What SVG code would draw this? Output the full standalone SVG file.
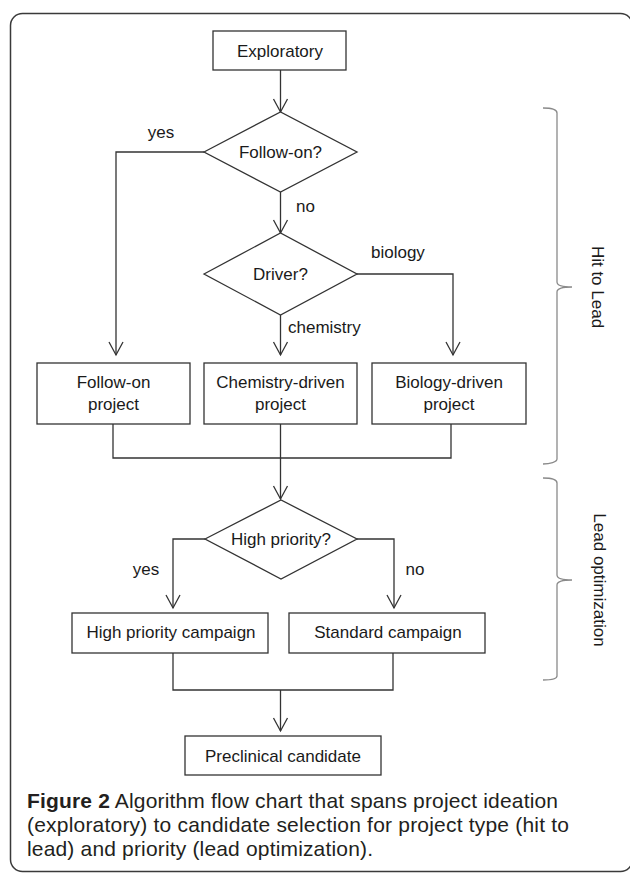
<svg xmlns="http://www.w3.org/2000/svg" width="630" height="874" viewBox="0 0 630 874">
  <defs>
    <style>
      .frame { fill: none; stroke: #3a3a3a; stroke-width: 1.5; }
      .box { fill: #ffffff; stroke: #333333; stroke-width: 1.3; }
      .edge { fill: none; stroke: #333333; stroke-width: 1.3; }
      .brace { fill: none; stroke: #8a8a8a; stroke-width: 1.3; }
      .t { font-family: "Liberation Sans", Arial, sans-serif; font-size: 17px; fill: #1a1a1a; }
      .c { text-anchor: middle; }
      .cap { font-family: "Liberation Sans", Arial, sans-serif; font-size: 21px; fill: #231f20; }
      .b { font-weight: bold; }
    </style>
    <marker id="arr" markerUnits="userSpaceOnUse" markerWidth="20" markerHeight="20" viewBox="-16 -10 20 20" refX="0" refY="0" orient="auto">
      <path d="M-13,-7 L0,0 L-13,7" fill="none" stroke="#333333" stroke-width="1.3"/>
    </marker>
  </defs>

  <rect class="frame" x="10.5" y="13.5" width="622" height="858" rx="12"/>

  <g id="connectors">
    <path class="edge" d="M280.5,70 L280.5,112" marker-end="url(#arr)"/>
    <path class="edge" d="M204,152 L116,152 L116,355" marker-end="url(#arr)"/>
    <path class="edge" d="M280.5,192 L280.5,233" marker-end="url(#arr)"/>
    <path class="edge" d="M357,274 L453,274 L453,355" marker-end="url(#arr)"/>
    <path class="edge" d="M280.5,315 L280.5,355" marker-end="url(#arr)"/>
    <path class="edge" d="M113,424 L113,458 L451,458 L451,424"/>
    <path class="edge" d="M280.5,424 L280.5,499" marker-end="url(#arr)"/>
    <path class="edge" d="M205,539 L173,539 L173,608" marker-end="url(#arr)"/>
    <path class="edge" d="M357,539 L394,539 L394,608" marker-end="url(#arr)"/>
    <path class="edge" d="M173,653 L173,690 L393,690 L393,653"/>
    <path class="edge" d="M280.5,690 L280.5,731" marker-end="url(#arr)"/>
    <text class="t c" x="161" y="138">yes</text>
    <text class="t" x="296" y="212">no</text>
    <text class="t" x="371" y="258">biology</text>
    <text class="t" x="288" y="333">chemistry</text>
    <text class="t c" x="146" y="575">yes</text>
    <text class="t c" x="415" y="575">no</text>
  </g>

  <g id="n_exploratory">
    <rect class="box" x="213" y="31" width="133" height="39"/>
    <text class="t c" x="280" y="57">Exploratory</text>
  </g>
  <g id="n_followon_q">
    <polygon class="box" points="204,152 280.5,112 357,152 280.5,192"/>
    <text class="t c" x="280.5" y="158">Follow-on?</text>
  </g>
  <g id="n_driver_q">
    <polygon class="box" points="204,274 280.5,233 357,274 280.5,315"/>
    <text class="t c" x="280.5" y="280">Driver?</text>
  </g>
  <g id="n_followon_proj">
    <rect class="box" x="37" y="363" width="153" height="61"/>
    <text class="t c" x="113.5" y="388">Follow-on</text>
    <text class="t c" x="113.5" y="410">project</text>
  </g>
  <g id="n_chem_proj">
    <rect class="box" x="204" y="363" width="153" height="61"/>
    <text class="t c" x="280.5" y="388">Chemistry-driven</text>
    <text class="t c" x="280.5" y="410">project</text>
  </g>
  <g id="n_bio_proj">
    <rect class="box" x="372" y="363" width="154" height="61"/>
    <text class="t c" x="449" y="388">Biology-driven</text>
    <text class="t c" x="449" y="410">project</text>
  </g>
  <g id="n_priority_q">
    <polygon class="box" points="205,539 281,500 357,539 281,579"/>
    <text class="t c" x="281" y="545">High priority?</text>
  </g>
  <g id="n_high_campaign">
    <rect class="box" x="72" y="613" width="196" height="40"/>
    <text class="t c" x="171" y="638">High priority campaign</text>
  </g>
  <g id="n_std_campaign">
    <rect class="box" x="289" y="613" width="196" height="40"/>
    <text class="t c" x="388" y="638">Standard campaign</text>
  </g>
  <g id="n_preclinical">
    <rect class="box" x="185" y="736" width="196" height="39"/>
    <text class="t c" x="283" y="762">Preclinical candidate</text>
  </g>

  <g id="brace_hit_to_lead">
    <path class="brace" d="M543,108 C550,108 557,109 557,113 L557,282 C557,285 562,287 572,287 C562,287 557,289 557,292 L557,459 C557,462 550,464 543,464"/>
    <text class="t c" x="592" y="287" transform="rotate(90 592 287)">Hit to Lead</text>
  </g>
  <g id="brace_lead_opt">
    <path class="brace" d="M543,478 C550,478 557,479 557,483 L557,575 C557,578 562,580 572,580 C562,580 557,582 557,585 L557,676 C557,679 550,680 543,680"/>
    <text class="t c" x="594" y="580" transform="rotate(90 594 580)">Lead optimization</text>
  </g>

  <g id="caption">
    <text class="cap" x="27" y="808" textLength="531" lengthAdjust="spacing"><tspan class="b">Figure 2</tspan> Algorithm flow chart that spans project ideation</text>
    <text class="cap" x="27" y="832" textLength="542" lengthAdjust="spacing">(exploratory) to candidate selection for project type (hit to</text>
    <text class="cap" x="27" y="856" textLength="346" lengthAdjust="spacing">lead) and priority (lead optimization).</text>
  </g>
</svg>
